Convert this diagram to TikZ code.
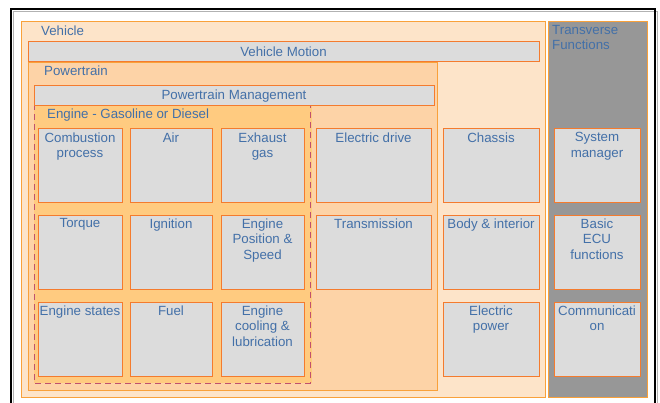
\documentclass[tikz,border=0pt]{standalone}
\usepackage{fontspec}
\setmainfont{Liberation Sans}
\definecolor{txt}{HTML}{4370A8}
\definecolor{vehfill}{HTML}{FDE4C9}
\definecolor{vehdraw}{HTML}{F9A13A}
\definecolor{ptfill}{HTML}{FDD3A7}
\definecolor{engfill}{HTML}{FFCB80}
\definecolor{cellfill}{HTML}{DCDCDC}
\definecolor{celldraw}{HTML}{F47B2E}
\definecolor{dashcol}{HTML}{C0506E}
\definecolor{trfill}{HTML}{979797}
\begin{document}
\begin{tikzpicture}[x=1pt,y=-1pt,
  font=\fontsize{13.3}{15.5}\selectfont,
  cell/.style={draw=celldraw, fill=cellfill, line width=1pt, inner sep=0pt, outer sep=0pt, minimum height=74pt},
  celltext/.style={text=txt, align=center, inner sep=0pt, anchor=north},
  lbl/.style={text=txt, inner sep=0pt, anchor=west},
  bar/.style={draw=celldraw, fill=cellfill, line width=1pt, inner sep=0pt, outer sep=0pt, text=txt, minimum height=20pt},
  container/.style={draw=vehdraw, line width=0.9pt}]
\useasboundingbox (0,0) rectangle (660,403);
% outer frame
\draw[gray!60, line width=0.8pt] (13,410) -- (13,11) -- (657,11) -- (657,410);
\draw[black, line width=1.3pt] (11,410) -- (11,9) -- (655,9) -- (655,410);
% vehicle
\path[container, fill=vehfill] (21,21) rectangle (545,397);
\node[lbl] (veh) at (41,31) {Vehicle};
% transverse
\path[container, fill=trfill] (548,21) rectangle (647,397);
\node[lbl, align=left, anchor=north west] (tr) at (552,25) {Transverse\\Functions};
% vehicle motion
\node[bar, minimum width=511pt] (vm) at (283.5,52) {Vehicle Motion};
% powertrain
\path[container, fill=ptfill] (28,62) rectangle (437,390);
\node[lbl] (pt) at (44,71) {Powertrain};
% engine
\fill[engfill] (34,104) rectangle (312,383);
\draw[dashcol, line width=0.9pt, dash pattern=on 6pt off 4pt] (34,104) rectangle (310,383);
\node[bar, minimum width=400pt] (pm) at (234,96) {Powertrain Management};
\node[lbl] (eng) at (47,115) {Engine - Gasoline or Diesel};
% row 1
\node[cell, minimum width=84pt] (c11) at (80,166) {};
\node[cell, minimum width=82pt] (c12) at (171,166) {};
\node[cell, minimum width=83pt] (c13) at (262.5,166) {};
\node[cell, minimum width=115pt] (c14) at (373.5,166) {};
\node[cell, minimum width=96pt] (c15) at (491,166) {};
\node[cell, minimum width=86pt] (c16) at (597,166) {};
% row 2
\node[cell, minimum width=84pt] (c21) at (80,252) {};
\node[cell, minimum width=82pt] (c22) at (171,252) {};
\node[cell, minimum width=83pt] (c23) at (262.5,252) {};
\node[cell, minimum width=115pt] (c24) at (373.5,252) {};
\node[cell, minimum width=96pt] (c25) at (491,252) {};
\node[cell, minimum width=86pt] (c26) at (597,252) {};
% row 3
\node[cell, minimum width=84pt] (c31) at (80,339) {};
\node[cell, minimum width=82pt] (c32) at (171,339) {};
\node[cell, minimum width=83pt] (c33) at (262.5,339) {};
\node[cell, minimum width=96pt] (c35) at (491,339) {};
\node[cell, minimum width=86pt] (c36) at (597,339) {};
% texts
\node[celltext] (t11) at ([yshift=-3.5pt]c11.north) {Combustion\\process};
\node[celltext] (t12) at ([yshift=-3.5pt]c12.north) {Air};
\node[celltext] (t13) at ([yshift=-3.5pt]c13.north) {Exhaust\\gas};
\node[celltext] (t14) at ([yshift=-3.5pt]c14.north) {Electric drive};
\node[celltext] (t15) at ([yshift=-3.5pt]c15.north) {Chassis};
\node[celltext] (t16) at ([yshift=-3.5pt]c16.north) {System\\manager};
\node[celltext] (t21) at ([yshift=-3.5pt]c21.north) {Torque};
\node[celltext] (t22) at ([yshift=-3.5pt]c22.north) {Ignition};
\node[celltext] (t23) at ([yshift=-3.5pt]c23.north) {Engine\\Position \&\\Speed};
\node[celltext] (t24) at ([yshift=-3.5pt]c24.north) {Transmission};
\node[celltext] (t25) at ([yshift=-3.5pt]c25.north) {Body \& interior};
\node[celltext] (t26) at ([yshift=-3.5pt]c26.north) {Basic\\ECU\\functions};
\node[celltext] (t31) at ([yshift=-3.5pt]c31.north) {Engine states};
\node[celltext] (t32) at ([yshift=-3.5pt]c32.north) {Fuel};
\node[celltext] (t33) at ([yshift=-3.5pt]c33.north) {Engine\\cooling \&\\lubrication};
\node[celltext] (t35) at ([yshift=-3.5pt]c35.north) {Electric\\power};
\node[celltext] (t36) at ([yshift=-3.5pt]c36.north) {Communicati\\on};
\end{tikzpicture}
\end{document}
